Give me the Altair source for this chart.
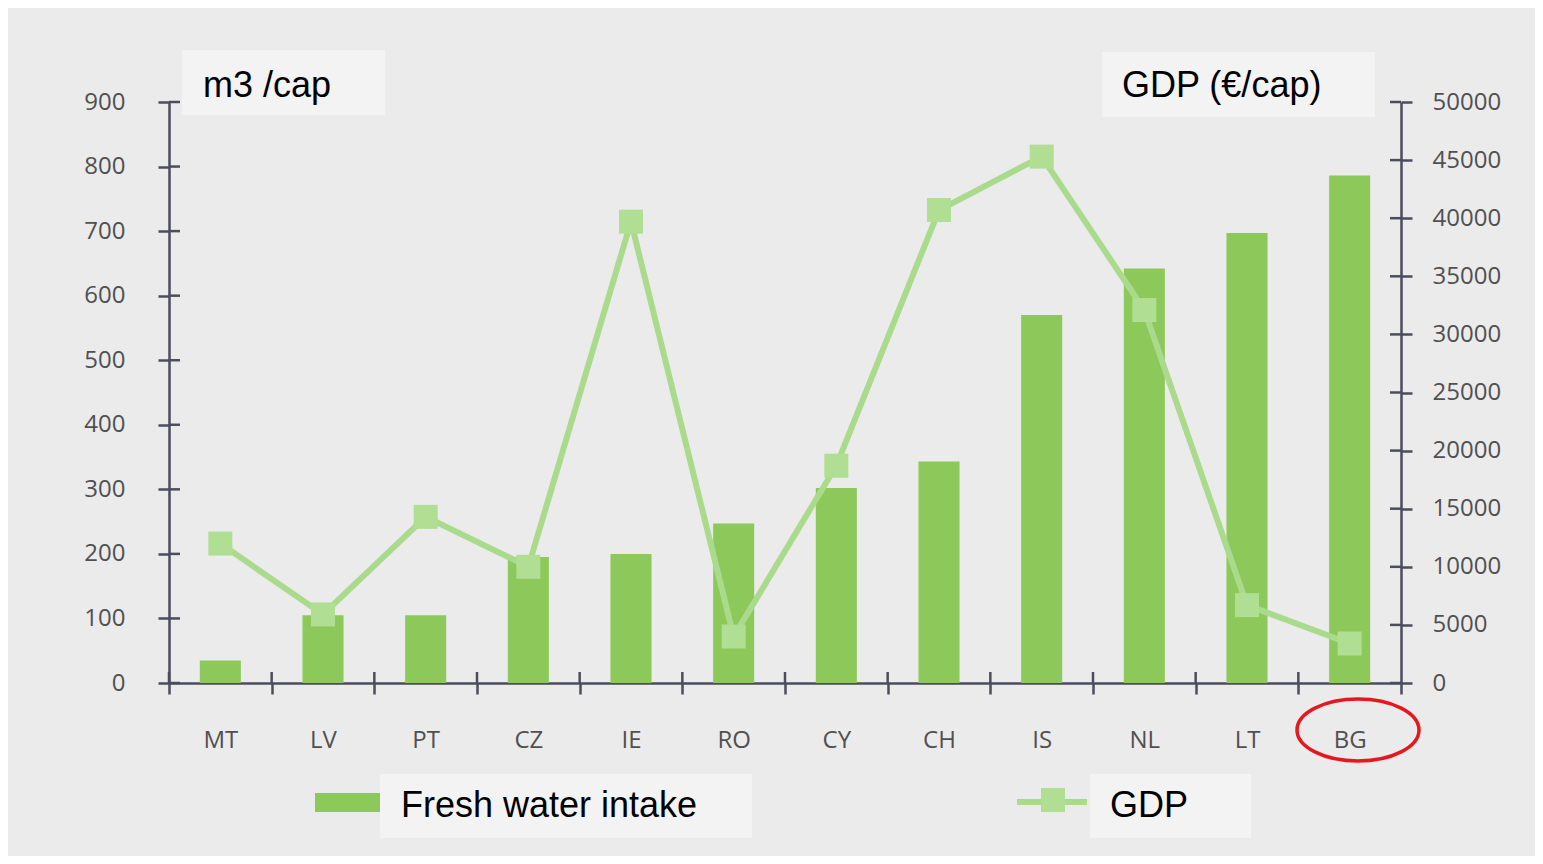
import altair as alt
import pandas as pd

cats = ["MT", "LV", "PT", "CZ", "IE", "RO", "CY", "CH", "IS", "NL", "LT", "BG"]
water = [35, 105, 105, 195, 200, 247, 302, 343, 570, 642, 697, 786]
gdp = [12000, 5900, 14300, 10000, 39700, 4000, 18700, 40700, 45300, 32100, 6700, 3400]
left_ticks = list(range(0, 1000, 100))
right_ticks = list(range(0, 55000, 5000))

W, H = 1232, 581
AX = "#4d4c5e"
BAR = "#8dc85a"
LINE = "#aadb8c"
MARK = "#b0de93"
LBL = "#505050"

df = pd.DataFrame({"cat": cats, "water": water, "gdp": gdp})
dl = pd.DataFrame({"v": left_ticks})
dr = pd.DataFrame({"v": right_ticks})
one = pd.DataFrame({"a": [0]})

xaxis = alt.Axis(title=None, labelAngle=0, labelFont="Open Sans", labelFontSize=24,
                 labelColor=LBL, labelPadding=34, tickBand="extent", tickSize=11,
                 tickWidth=2.5, tickColor=AX, domainColor=AX, domainWidth=2.5)
xscale = alt.Scale(paddingInner=0, paddingOuter=0)
X = alt.X("cat:N", sort=cats, scale=xscale, axis=xaxis)

bars = alt.Chart(df).mark_bar(color=BAR, width={"band": 0.4}).encode(
    x=X,
    y=alt.Y("water:Q", scale=alt.Scale(domain=[0, 900], nice=False),
            axis=alt.Axis(title=None, orient="left", values=left_ticks, grid=False,
                          labelFont="Open Sans", labelFontSize=24, labelColor=LBL,
                          labelPadding=33, tickSize=11, tickWidth=2.5, tickColor=AX,
                          domainColor=AX, domainWidth=2.5)),
)

lt_inner = alt.Chart(dl).mark_rule(color=AX, strokeWidth=2.5).encode(
    y=alt.Y("v:Q", scale=alt.Scale(domain=[0, 900], nice=False), axis=None),
    x=alt.value(0), x2=alt.value(11),
)

line = alt.Chart(df).mark_line(color=LINE, strokeWidth=6).encode(
    x=X,
    y=alt.Y("gdp:Q", scale=alt.Scale(domain=[0, 50000], nice=False),
            axis=alt.Axis(title=None, orient="right", values=right_ticks, format="d",
                          grid=False, labelFont="Open Sans", labelFontSize=24,
                          labelColor=LBL, labelPadding=20, tickSize=11, tickWidth=2.5,
                          tickColor=AX, domainColor=AX, domainWidth=2.5)),
)

pts = alt.Chart(df).mark_point(shape="square", filled=True, size=576, color=MARK, opacity=1).encode(
    x=X,
    y=alt.Y("gdp:Q", scale=alt.Scale(domain=[0, 50000], nice=False), axis=None),
)

rt_inner = alt.Chart(dr).mark_rule(color=AX, strokeWidth=2.5).encode(
    y=alt.Y("v:Q", scale=alt.Scale(domain=[0, 50000], nice=False), axis=None),
    x=alt.value(W - 11), x2=alt.value(W),
)

xt_inner = alt.Chart(df).mark_rule(color=AX, strokeWidth=2.5).encode(
    x=alt.X("cat:N", sort=cats, scale=xscale, axis=xaxis, bandPosition=0),
    y=alt.value(H - 11), y2=alt.value(H),
)


def box(x1, x2, y1, y2):
    return alt.Chart(one).mark_rect(color="#f3f3f3").encode(
        x=alt.value(x1), x2=alt.value(x2), y=alt.value(y1), y2=alt.value(y2))


def label(txt, x, y):
    return alt.Chart(one).mark_text(align="left", baseline="middle", font="Liberation Sans",
                                    fontSize=36, color="#000000").encode(
        x=alt.value(x), y=alt.value(y), text=alt.value(txt))


ann = [
    box(13, 216, -52, 13), label("m3 /cap", 34, -16),
    box(933, 1206, -50, 15), label("GDP (€/cap)", 953, -16),
    alt.Chart(one).mark_rect(color=BAR).encode(
        x=alt.value(146), x2=alt.value(211), y=alt.value(691), y2=alt.value(710)),
    box(211, 583, 672, 736), label("Fresh water intake", 232, 704),
    alt.Chart(one).mark_rule(color=LINE, strokeWidth=6).encode(
        x=alt.value(848), x2=alt.value(918), y=alt.value(700)),
    alt.Chart(one).mark_point(shape="square", filled=True, size=576, color=MARK, opacity=1).encode(
        x=alt.value(884), y=alt.value(698)),
    box(921, 1082, 672, 736), label("GDP", 941, 704),
    alt.Chart(one).mark_point(
        shape="M -1 0 A 1 0.508 0 1 0 1 0 A 1 0.508 0 1 0 -1 0 Z",
        size=14884, filled=False, stroke="#e3191f", strokeWidth=3.5, opacity=1).encode(
        x=alt.value(1189), y=alt.value(628)),
]

chart = alt.layer(bars, lt_inner, xt_inner, line, pts, rt_inner, *ann).resolve_scale(
    y="independent"
).properties(
    width=W, height=H,
    autosize=alt.AutoSizeParams(type="none"),
    padding={"left": 161, "top": 94, "right": 134, "bottom": 173},
    background="#ebebeb",
).configure_view(stroke=None)

chart.save("out.html", embed_options={"renderer": "svg", "actions": False})
